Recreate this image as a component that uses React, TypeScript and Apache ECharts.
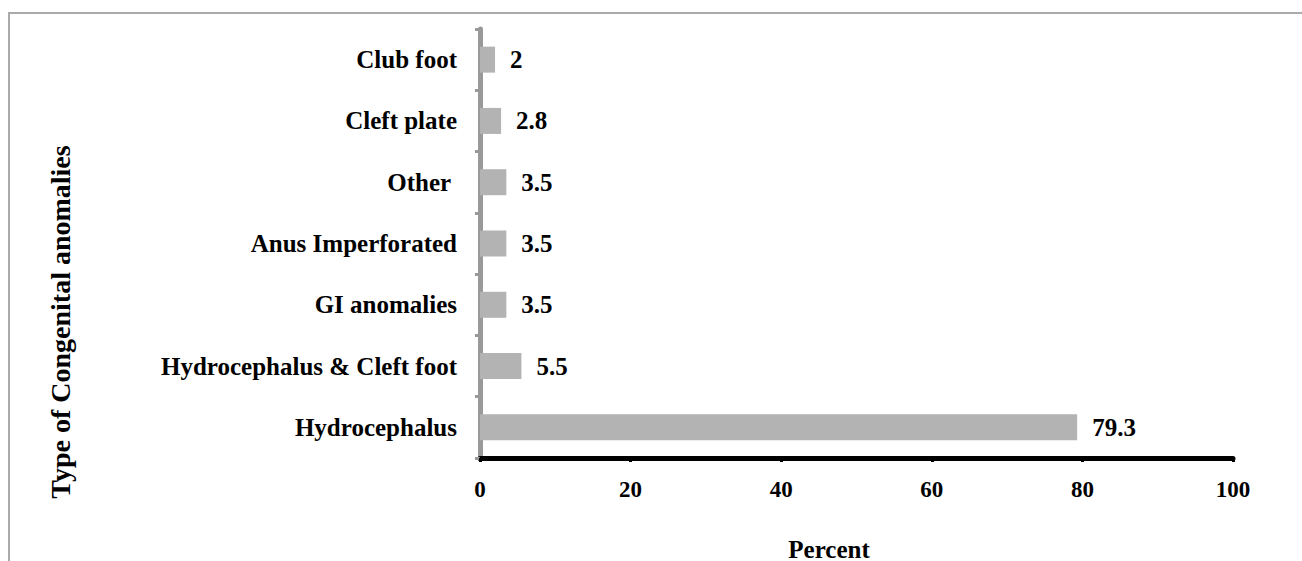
import React, { useEffect, useRef } from "react";
import * as echarts from "echarts";

const categories = [
  "Hydrocephalus",
  "Hydrocephalus & Cleft foot",
  "GI anomalies",
  "Anus Imperforated",
  "Other ",
  "Cleft plate",
  "Club foot",
];
const values = [79.3, 5.5, 3.5, 3.5, 3.5, 2.8, 2];
const xTicks = { min: 0, max: 100, interval: 20 };

const FONT = "'Liberation Serif', 'Times New Roman', serif";

export default function App() {
  const ref = useRef<HTMLDivElement>(null);
  useEffect(() => {
    if (!ref.current) return;
    const chart = echarts.init(ref.current, undefined, { renderer: "svg" });
    chart.setOption({
      animation: false,
      backgroundColor: "#fff",
      grid: { left: 480, top: 29, right: 69, bottom: 103, containLabel: false },
      graphic: [
        {
          type: "rect",
          shape: { x: 9, y: 13, width: 1400, height: 700 },
          style: { fill: "none", stroke: "#aaaaaa", lineWidth: 2 },
        },
        {
          type: "text",
          x: 60,
          y: 322,
          rotation: Math.PI / 2,
          style: {
            text: "Type of Congenital anomalies",
            font: `bold 28px ${FONT}`,
            fill: "#000",
            align: "center",
            verticalAlign: "middle",
          },
        },
        {
          type: "text",
          x: 829,
          y: 549,
          style: {
            text: "Percent",
            font: `bold 25px ${FONT}`,
            fill: "#000",
            align: "center",
            verticalAlign: "middle",
          },
        },
      ],
      xAxis: {
        type: "value",
        min: xTicks.min,
        max: xTicks.max,
        interval: xTicks.interval,
        axisLine: { show: true, lineStyle: { color: "#000", width: 5 } },
        axisTick: { show: true, length: 4, lineStyle: { color: "#000", width: 3 } },
        axisLabel: {
          fontFamily: FONT,
          fontWeight: "bold",
          fontSize: 23,
          color: "#000",
          margin: 20,
        },
        splitLine: { show: false },
      },
      yAxis: {
        type: "category",
        data: categories,
        axisLine: { show: true, lineStyle: { color: "#999999", width: 5 } },
        axisTick: { show: true, length: 5, lineStyle: { color: "#999999", width: 3 } },
        axisLabel: {
          fontFamily: FONT,
          fontWeight: "bold",
          fontSize: 25,
          color: "#000",
          margin: 23,
        },
      },
      series: [
        {
          type: "bar",
          data: values,
          barWidth: 26,
          itemStyle: { color: "#b3b3b3" },
          label: {
            show: true,
            position: "right",
            distance: 15,
            fontFamily: FONT,
            fontWeight: "bold",
            fontSize: 25,
            color: "#000",
          },
        },
      ],
    });
    return () => chart.dispose();
  }, []);
  return (
    <div
      ref={ref}
      style={{ position: "absolute", left: 0, top: 0, width: 1302, height: 561 }}
    />
  );
}
